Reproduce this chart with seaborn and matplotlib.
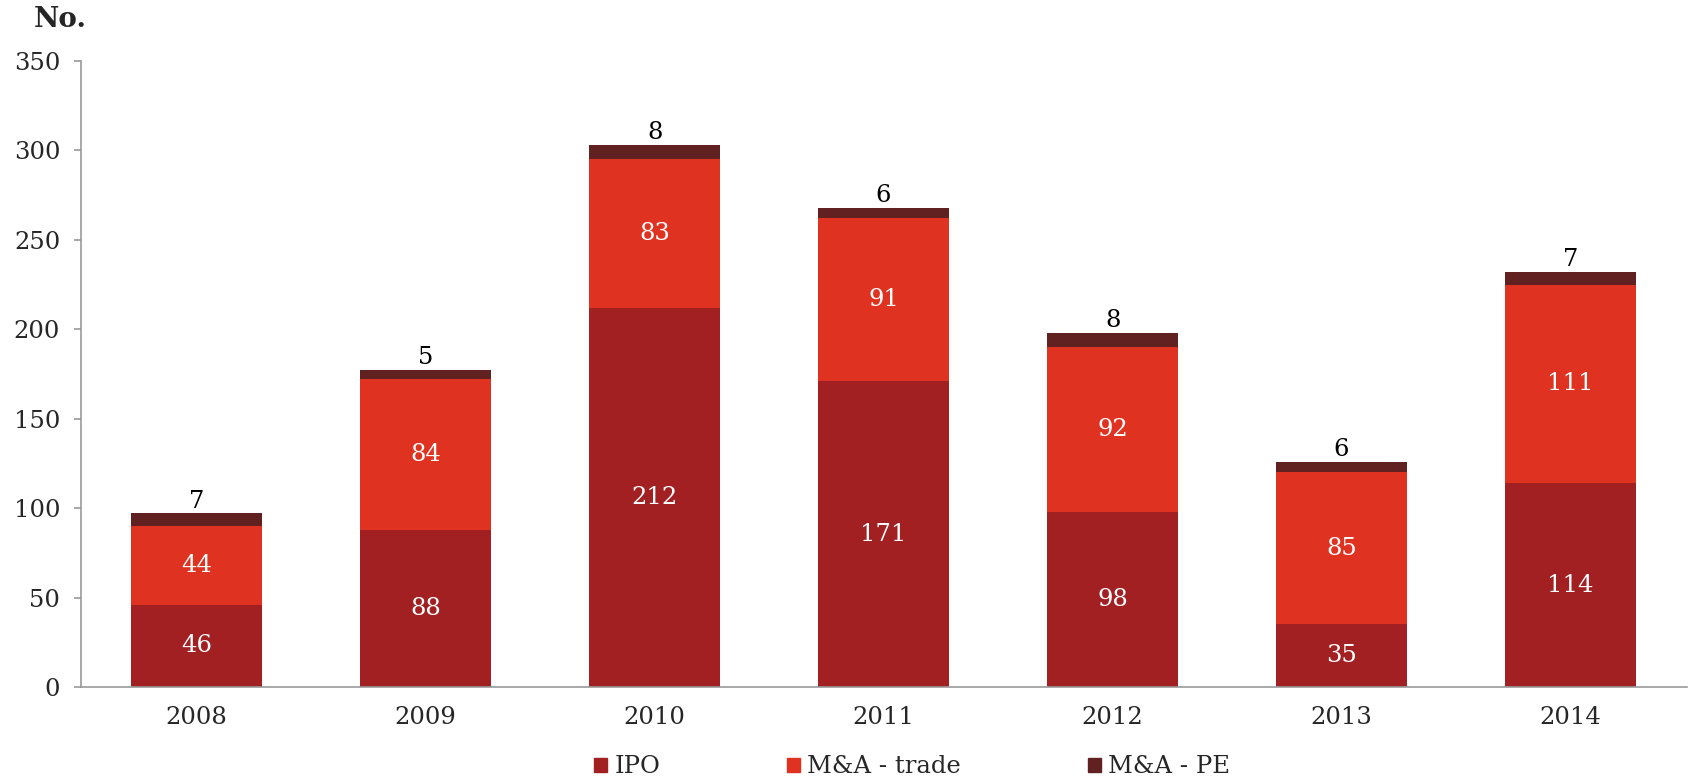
import pandas as pd
import seaborn as sns
import matplotlib.pyplot as plt
from matplotlib.patches import Patch

# data
years = ["2008", "2009", "2010", "2011", "2012", "2013", "2014"]
ipo = [46, 88, 212, 171, 98, 35, 114]
ma_trade = [44, 84, 83, 91, 92, 85, 111]
ma_pe = [7, 5, 8, 6, 8, 6, 7]

c_ipo = "#a21f22"
c_trade = "#e03220"
c_pe = "#622121"

df = pd.DataFrame({"year": years, "IPO": ipo, "M&A - trade": ma_trade, "M&A - PE": ma_pe})
df["lvl2"] = df["IPO"] + df["M&A - trade"]
df["total"] = df["lvl2"] + df["M&A - PE"]

sns.set_style("white")
plt.rcParams["font.family"] = ["DejaVu Serif"]
fs = 17.5

fig = plt.figure(figsize=(16.89, 7.81), dpi=100)
ax = fig.add_axes([0.048, 0.1204, 0.951, 0.8016])

# stacked bars drawn as overlapping cumulative totals
for col, c in [("total", c_pe), ("lvl2", c_trade), ("IPO", c_ipo)]:
    sns.barplot(data=df, x="year", y=col, color=c, width=0.57, saturation=1, linewidth=0, ax=ax)

for i, row in df.iterrows():
    ax.text(i, row["IPO"] / 2, str(row["IPO"]), ha="center", va="center", color="white", fontsize=fs)
    ax.text(i, row["IPO"] + row["M&A - trade"] / 2, str(row["M&A - trade"]), ha="center", va="center",
            color="white", fontsize=fs)
    ax.text(i, row["total"] + 0.5, str(row["M&A - PE"]), ha="center", va="bottom", color="black", fontsize=fs)

ax.set_ylim(0, 350)
ax.set_xlim(-0.505, 6.51)
ax.set_yticks(range(0, 351, 50))
ax.set_xlabel("")
ax.set_ylabel("")
sns.despine(ax=ax)
for s in ["left", "bottom"]:
    ax.spines[s].set_color("#999999")
    ax.spines[s].set_linewidth(1.2)
ax.tick_params(axis="y", left=True, length=5, width=1.2, color="#999999", pad=10, labelsize=fs)
ax.tick_params(axis="x", bottom=False, length=0, pad=14, labelsize=fs)

fig.text(0.02, 0.975, "No.", fontsize=20, fontweight="bold", va="center", ha="left")

handles = [Patch(color=c_ipo, label="IPO"), Patch(color=c_trade, label="M&A - trade"),
           Patch(color=c_pe, label="M&A - PE")]
fig.legend(handles=handles, loc="center", bbox_to_anchor=(0.54, 0.018), ncol=3, frameon=False,
           fontsize=fs, handlelength=0.55, handleheight=0.55, handletextpad=0.3, columnspacing=5.2)

plt.savefig("out.png", dpi=100)
